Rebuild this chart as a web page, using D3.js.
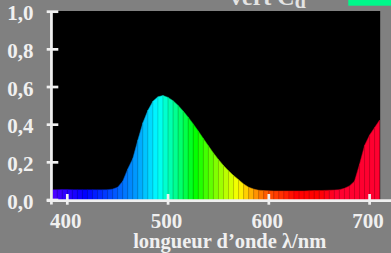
<!DOCTYPE html>
<html>
<head>
<meta charset="utf-8">
<script src="https://cdn.jsdelivr.net/npm/d3@7/dist/d3.min.js"></script>
<style>
  html, body { margin: 0; padding: 0; background: #808080; overflow: hidden; }
  svg { display: block; }
</style>
</head>
<body>
<svg id="chart" width="391" height="253"></svg>
<script>
/* spectre de réflectance — vert Cd, bandes colorées par longueur d'onde */
var wavelengths = [385, 390, 395, 400, 405, 410, 415, 420, 425, 430, 435, 440, 445, 450, 455, 460, 465, 470, 475, 480,
  485, 490, 495, 500, 505, 510, 515, 520, 525, 530, 535, 540, 545, 550, 555, 560, 565, 570, 575, 580,
  585, 590, 595, 600, 605, 610, 615, 620, 625, 630, 635, 640, 645, 650, 655, 660, 665, 670, 675, 680,
  685, 690, 695, 700, 705, 710];
var reflectance = [0.055, 0.055, 0.056, 0.056, 0.055, 0.055, 0.055, 0.055, 0.055, 0.054, 0.054, 0.055, 0.058, 0.068, 0.100, 0.165, 0.220, 0.318, 0.410, 0.476,
  0.525, 0.548, 0.555, 0.545, 0.527, 0.502, 0.472, 0.440, 0.404, 0.366, 0.327, 0.288, 0.250, 0.215, 0.183, 0.155, 0.130, 0.108, 0.085, 0.068,
  0.058, 0.052, 0.050, 0.049, 0.048, 0.048, 0.048, 0.048, 0.048, 0.048, 0.048, 0.049, 0.050, 0.050, 0.051, 0.052, 0.053, 0.055, 0.062, 0.075,
  0.100, 0.190, 0.290, 0.345, 0.385, 0.425];
var xTicks = [400, 500, 600, 700];
var yTicks = [0, 0.2, 0.4, 0.6, 0.8, 1.0];
var xLabel = 'longueur d\u2019onde \u03bb/nm';
var titleMain = 'vert C', titleSub = 'd';

(function () {
  var FONT = '"Liberation Serif", "Times New Roman", serif';
  var INK = '#f0f0f0';
  var svg = d3.select('#chart');

  var x = d3.scaleLinear().domain([400, 700]).range([67.3, 369.6]);
  var y = d3.scaleLinear().domain([0, 1]).range([200, 11.7]);

  // couleur approximative d'une longueur d'onde (ancrages)
  var colStops = [[385, '#5000ff'], [400, '#2a00ff'], [418, '#0000ff'], [440, '#0040ff'], [470, '#00a0ff'],
    [490, '#00ffff'], [510, '#00ff80'], [527, '#00ff00'], [550, '#90ff00'], [570, '#ffff00'],
    [585, '#ffa000'], [600, '#ff5000'], [615, '#ff2800'], [627, '#ff0000'], [650, '#ff0000'],
    [668, '#ff0030'], [715, '#ff0030']];
  var wlColor = d3.scaleLinear().domain(colStops.map(function (d) { return d[0]; }))
    .range(colStops.map(function (d) { return d[1]; })).interpolate(d3.interpolateRgb).clamp(true);

  var left = 52.5, right = x(710.5);
  svg.append('defs').append('clipPath').attr('id', 'plotclip').append('rect')
    .attr('x', left).attr('y', y(1) - 0.7).attr('width', right - left).attr('height', y(0) - y(1) + 0.7);
  svg.append('rect').attr('x', left).attr('y', y(1) - 0.7).attr('width', right - left).attr('height', y(0) - y(1) + 0.7).attr('fill', '#000');

  var bands = [];
  for (var i = 0; i < wavelengths.length - 1; i++) {
    bands.push({ w0: wavelengths[i], w1: wavelengths[i + 1], v0: reflectance[i], v1: reflectance[i + 1] });
  }
  svg.append('g').attr('clip-path', 'url(#plotclip)').selectAll('path').data(bands).enter().append('path')
    .attr('d', function (d) {
      return 'M' + x(d.w0) + ',' + y(0) + 'L' + x(d.w0) + ',' + y(d.v0) + 'L' + x(d.w1) + ',' + y(d.v1) + 'L' + x(d.w1) + ',' + y(0) + 'Z';
    })
    .attr('fill', function (d) { return wlColor((d.w0 + d.w1) / 2); })
    .attr('stroke', function (d) { return d3.color(wlColor((d.w0 + d.w1) / 2)).darker(0.7); })
    .attr('stroke-width', 0.5);

  // axes blancs
  var ax = svg.append('g').attr('stroke', INK).attr('stroke-width', 2.7);
  ax.append('line').attr('x1', 46.7).attr('x2', 391).attr('y1', y(0) + 0.7).attr('y2', y(0) + 0.7);
  ax.append('line').attr('x1', 51.4).attr('x2', 51.4).attr('y1', y(1) - 0.5).attr('y2', 204.5);
  ax.selectAll('.yt').data(yTicks).enter().append('line')
    .attr('x1', 46.7).attr('x2', 58.3).attr('y1', function (d) { return y(d); }).attr('y2', function (d) { return y(d); });
  ax.selectAll('.xt').data(xTicks).enter().append('line')
    .attr('x1', function (d) { return x(d); }).attr('x2', function (d) { return x(d); }).attr('y1', 194).attr('y2', 204.7);

  var txt = svg.append('g').attr('font-family', FONT).attr('font-weight', 'bold').attr('fill', INK);
  txt.selectAll('.yl').data(yTicks).enter().append('text')
    .attr('x', 33.5).attr('y', function (d) { return y(d) + 8.5; }).attr('text-anchor', 'end').attr('font-size', 21)
    .text(function (d) { return d.toFixed(1).replace('.', ','); });
  txt.selectAll('.xl').data(xTicks).enter().append('text')
    .attr('x', function (d) { return x(d) - 1.5; }).attr('y', 228.3).attr('text-anchor', 'middle').attr('font-size', 21)
    .text(function (d) { return d; });
  txt.append('text').attr('x', 229.7).attr('y', 248.3).attr('text-anchor', 'middle').attr('font-size', 20.5).text(xLabel);

  // titre coupé en haut + pastille verte
  var t = svg.append('text').attr('x', 230).attr('y', 5).attr('font-family', FONT).attr('font-weight', 'bold')
    .attr('font-size', 24).attr('fill', '#e4e4e4');
  t.append('tspan').text(titleMain);
  t.append('tspan').attr('dy', 2.5).attr('font-size', 20).text(titleSub);
  svg.append('rect').attr('x', 348.3).attr('y', 0).attr('width', 43).attr('height', 5.7).attr('fill', '#00f88a');
})();
</script>
</body>
</html>
